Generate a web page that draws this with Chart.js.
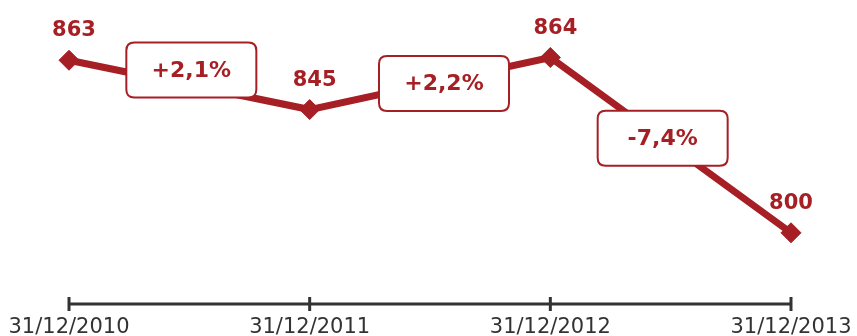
<!DOCTYPE html>
<html>
<head>
<meta charset="utf-8">
<script src="https://cdn.jsdelivr.net/npm/chart.js@4/dist/chart.umd.min.js"></script>
<style>
  body { margin: 0; background: #fff; }
  #wrap { width: 857px; height: 336px; }
</style>
</head>
<body>
<div id="wrap"><canvas id="myChart"></canvas></div>
<script>
const dates = ['31/12/2010', '31/12/2011', '31/12/2012', '31/12/2013'];
const values = [863, 845, 864, 800];
const changes = ['+2,1%', '+2,2%', '-7,4%'];

const RED = '#A61F24';
const GREY = '#333333';

// offsets of each change box from the middle of its segment
const boxShift = [[2, -15], [14, 0], [-8, -7]];

const roundRect = (ctx, x, y, w, h, r) => {
  ctx.beginPath();
  ctx.moveTo(x + r, y);
  ctx.lineTo(x + w - r, y);
  ctx.quadraticCurveTo(x + w, y, x + w, y + r);
  ctx.lineTo(x + w, y + h - r);
  ctx.quadraticCurveTo(x + w, y + h, x + w - r, y + h);
  ctx.lineTo(x + r, y + h);
  ctx.quadraticCurveTo(x, y + h, x, y + h - r);
  ctx.lineTo(x, y + r);
  ctx.quadraticCurveTo(x, y, x + r, y);
  ctx.closePath();
};

// axis line with crossing ticks
const axisPlugin = {
  id: 'axisLine',
  beforeDatasetsDraw(chart) {
    const ctx = chart.ctx;
    const x = chart.scales.x;
    const y0 = chart.chartArea.bottom;
    ctx.save();
    ctx.strokeStyle = GREY;
    ctx.lineWidth = 3;
    ctx.beginPath();
    ctx.moveTo(x.getPixelForValue(0), y0);
    ctx.lineTo(x.getPixelForValue(dates.length - 1), y0);
    ctx.stroke();
    dates.forEach((d, i) => {
      const px = x.getPixelForValue(i);
      ctx.beginPath();
      ctx.moveTo(px, y0 - 7);
      ctx.lineTo(px, y0 + 7);
      ctx.stroke();
    });
    ctx.restore();
  }
};

// value labels and change boxes
const labelPlugin = {
  id: 'labels',
  afterDatasetsDraw(chart) {
    const ctx = chart.ctx;
    const pts = chart.getDatasetMeta(0).data;
    ctx.save();
    ctx.font = 'bold 21px "DejaVu Sans"';
    ctx.fillStyle = RED;
    ctx.textAlign = 'center';
    ctx.textBaseline = 'alphabetic';
    pts.forEach((p, i) => {
      const dx = i < pts.length - 1 ? 5 : 0;
      ctx.fillText(values[i], p.x + dx, p.y - 24);
    });

    const w = 130, h = 55;
    ctx.font = 'bold 22px "DejaVu Sans"';
    changes.forEach((txt, i) => {
      const a = pts[i], b = pts[i + 1];
      const cx = (a.x + b.x) / 2 + boxShift[i][0];
      const cy = (a.y + b.y) / 2 + boxShift[i][1];
      roundRect(ctx, cx - w / 2, cy - h / 2, w, h, 8);
      ctx.fillStyle = '#fff';
      ctx.fill();
      ctx.lineWidth = 2;
      ctx.strokeStyle = RED;
      ctx.stroke();
      ctx.fillStyle = RED;
      ctx.textBaseline = 'middle';
      ctx.fillText(txt, cx, cy + 1);
    });
    ctx.restore();
  }
};

const ctx = document.getElementById('myChart').getContext('2d');
const myChart = new Chart(ctx, {
  type: 'line',
  data: {
    labels: dates,
    datasets: [{
      data: values,
      borderColor: RED,
      backgroundColor: RED,
      borderWidth: 7,
      pointStyle: 'rectRot',
      pointRadius: 10,
      pointBackgroundColor: RED,
      pointBorderColor: RED,
      pointBorderWidth: 1,
      tension: 0,
      fill: false
    }]
  },
  options: {
    responsive: true,
    maintainAspectRatio: false,
    animation: false,
    layout: { autoPadding: false, padding: { left: 69, right: 66, top: 0, bottom: 0 } },
    plugins: {
      legend: { display: false },
      tooltip: { enabled: false }
    },
    scales: {
      x: {
        offset: false,
        grid: { display: false },
        border: { display: false },
        afterFit: (scale) => { scale.height = 32; },
        ticks: {
          color: GREY,
          font: { family: 'DejaVu Sans', size: 21 },
          padding: 3,
          maxRotation: 0,
          autoSkip: false
        }
      },
      y: {
        display: false,
        min: 774,
        max: 885
      }
    }
  },
  plugins: [axisPlugin, labelPlugin]
});
</script>
</body>
</html>
